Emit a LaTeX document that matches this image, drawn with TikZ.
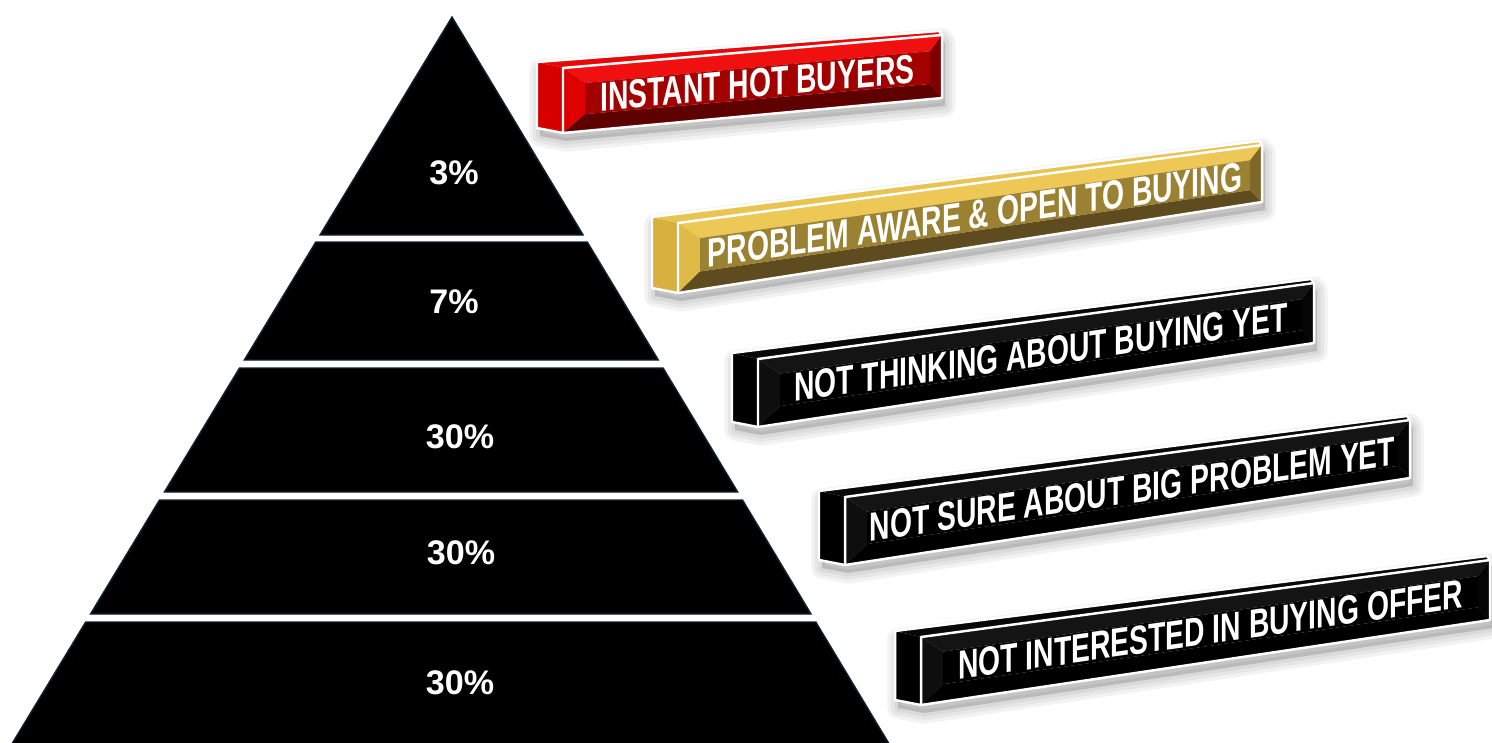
\documentclass[tikz,border=0pt]{standalone}
\usepackage{fontspec}
\setmainfont{Liberation Sans}
\newfontfamily\barfont{Liberation Sans}[FakeStretch=0.70]
\usetikzlibrary{calc}

\definecolor{pyrEdge}{HTML}{0F2332}
\definecolor{redEnd}{HTML}{D60000}
\definecolor{redTop}{HTML}{E80808}
\definecolor{redBevT}{HTML}{F01010}
\definecolor{redBevL}{HTML}{DE0000}
\definecolor{redPanel}{HTML}{A30000}
\definecolor{redBevB}{HTML}{5E0000}
\definecolor{redBevR}{HTML}{800000}
\definecolor{goldEnd}{HTML}{D8B040}
\definecolor{goldTop}{HTML}{E9C453}
\definecolor{goldBevT}{HTML}{EDC857}
\definecolor{goldBevL}{HTML}{E0BA48}
\definecolor{goldPanel}{HTML}{9B8233}
\definecolor{goldBevB}{HTML}{5E4B1F}
\definecolor{goldBevR}{HTML}{7D6729}
\definecolor{blkEnd}{HTML}{000000}
\definecolor{blkTop}{HTML}{080808}
\definecolor{blkBevT}{HTML}{141414}
\definecolor{blkBevL}{HTML}{0E0E0E}
\definecolor{blkPanel}{HTML}{000000}
\definecolor{blkBevB}{HTML}{000000}
\definecolor{blkBevR}{HTML}{050505}

\tikzset{
  band/.style={fill=black, draw=pyrEdge, line width=0.4pt},
  pct/.style={text=white, font=\bfseries\fontsize{9.7}{11}\selectfont},
  bartext/.style={text=white, inner sep=0pt, transform shape,
    font=\barfont\bfseries\fontsize{11.5}{13}\selectfont},
  rim/.style={draw=white, line width=0.7pt, line join=round},
  shade/.style={fill=black, fill opacity=0.05, draw=black, draw opacity=0.05, line join=round}
}

% #1 name, #2 left x, #3 right x, #4 bottom-left y, #5 top-left y,
% #6 bottom-right y, #7 top-right y, #8 colour set, #9 text
\newcommand{\salesbar}[9]{%
  \pgfmathsetmacro\barXa{#2+22}%
  \pgfmathsetmacro\barXb{#3-12}%
  \pgfmathsetmacro\barBa{#4+(#6-#4)*22/(#3-#2)}%
  \pgfmathsetmacro\barTa{#5+(#7-#5)*22/(#3-#2)}%
  \pgfmathsetmacro\barBb{#6-(#6-#4)*12/(#3-#2)}%
  \pgfmathsetmacro\barTb{#7-(#7-#5)*12/(#3-#2)}%
  \pgfmathsetmacro\barPa{\barBa-0.26*(\barBa-\barTa)}%
  \pgfmathsetmacro\barQa{\barTa+0.26*(\barBa-\barTa)}%
  \pgfmathsetmacro\barPb{\barBb-0.24*(\barBb-\barTb)}%
  \pgfmathsetmacro\barQb{\barTb+0.24*(\barBb-\barTb)}%
  \pgfmathsetmacro\barCx{(\barXa+\barXb)/2}%
  \pgfmathsetmacro\barCy{(\barPa+\barQa+\barPb+\barQb)/4}%
  \pgfmathsetmacro\barTs{((#4-#6)+(#5-#7))/(2*(#3-#2))}%
  % soft shadow
  \foreach \w in {2,4,6}
    \filldraw[shade, line width=\w pt, shift={(3,8)}] ({#2-26},{#5-6}) -- ({#3-3},{#7-4}) -- (#3,#7)
      -- (#3,#6) -- (#2,#4) -- ({#2-26},{#4-5}) -- cycle;
  % end and top faces
  \fill[#8End] ({#2-26},{#5-6}) -- (#2,#5) -- (#2,#4) -- ({#2-26},{#4-5}) -- cycle;
  \fill[#8Top] ({#2-26},{#5-6}) -- ({#3-3},{#7-4}) -- (#3,#7) -- (#2,#5) -- cycle;
  % front face bevels and panel
  \fill[#8BevT] (#2,#5) -- (#3,#7) -- (\barXb,\barQb) -- (\barXa,\barQa) -- cycle;
  \fill[#8BevL] (#2,#5) -- (\barXa,\barQa) -- (\barXa,\barPa) -- (#2,#4) -- cycle;
  \fill[#8BevB] (#2,#4) -- (\barXa,\barPa) -- (\barXb,\barPb) -- (#3,#6) -- cycle;
  \fill[#8BevR] (#3,#7) -- (#3,#6) -- (\barXb,\barPb) -- (\barXb,\barQb) -- cycle;
  \fill[#8Panel] (\barXa,\barPa) -- (\barXa,\barQa) -- (\barXb,\barQb) -- (\barXb,\barPb) -- cycle;
  % white rims
  \draw[rim] ({#2-26},{#5-6}) -- ({#3-3},{#7-4}) -- (#3,#7) -- (#3,#6) -- (#2,#4)
    -- ({#2-26},{#4-5}) -- cycle;
  \draw[rim] (#2,#4) -- (#2,#5) -- (#3,#7);
  \begin{scope}[shift={(\barCx,\barCy)}, yslant=\barTs]
    \node[bartext] (#1) at (0,0) {#9};
  \end{scope}
}

\begin{document}
\begin{tikzpicture}[x=0.01cm,y=-0.01cm]
  \useasboundingbox (0,0) rectangle (1492,742);

  % pyramid
  \fill[band] (452,17) -- (583.1,235) -- (320,235) -- cycle;
  \fill[band] (315.8,242) -- (587.3,242) -- (658.3,360) -- (244.3,360) -- cycle;
  \fill[band] (239.5,368) -- (663.1,368) -- (737.7,492) -- (164.4,492) -- cycle;
  \fill[band] (159.5,500) -- (742.5,500) -- (811,614) -- (90.5,614) -- cycle;
  \fill[band] (85.7,622) -- (815.8,622) -- (892.8,750) -- (8.2,750) -- cycle;

  \node[pct] (p3) at (454,173) {3\%};
  \node[pct] (p7) at (454,302) {7\%};
  \node[pct] (p30a) at (460,437) {30\%};
  \node[pct] (p30b) at (461,553) {30\%};
  \node[pct] (p30c) at (460,683) {30\%};

  % labels
  \salesbar{hot}{563}{942}{133}{68}{98}{35}{red}{INSTANT HOT BUYERS}
  \salesbar{aware}{678}{1262}{293}{223}{202}{145}{gold}{PROBLEM AWARE \& OPEN TO BUYING}
  \salesbar{think}{758}{1314}{427}{359}{343}{283}{blk}{NOT THINKING ABOUT BUYING YET}
  \salesbar{sure}{845}{1410}{565}{497}{478}{420}{blk}{NOT SURE ABOUT BIG PROBLEM YET}
  \salesbar{offer}{921}{1490}{705}{637}{620}{560}{blk}{NOT INTERESTED IN BUYING OFFER}
\end{tikzpicture}
\end{document}
